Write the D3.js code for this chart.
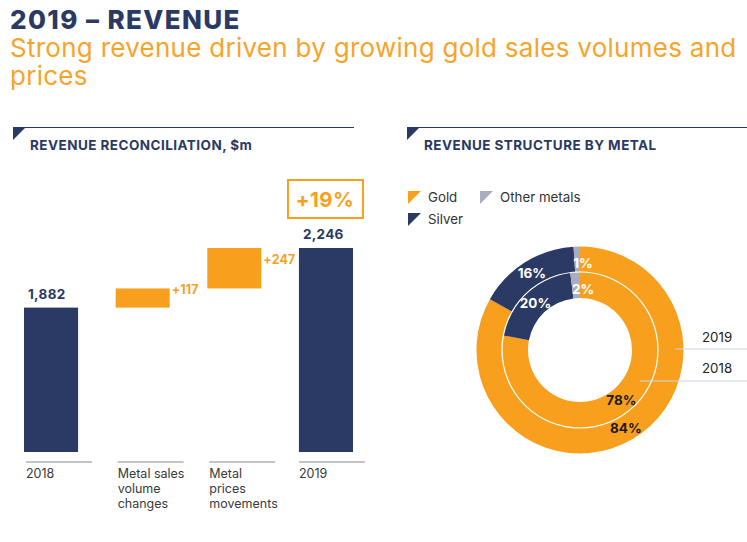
<!DOCTYPE html>
<html><head><meta charset="utf-8">
<script src="https://cdn.jsdelivr.net/npm/d3@7"></script>
<style>
body{margin:0;background:#fff;}
svg{display:block;font-family:Inter, "Open Sans", sans-serif;}
</style></head>
<body><svg id="c" width="747" height="542"></svg>
<script>
// ---- data ----
const wfCategories = [["2018"], ["Metal sales","volume","changes"], ["Metal","prices","movements"], ["2019"]];
const wfValues = [1882, 117, 247, 2246];
const wfLabels = ["1,882", "+117", "+247", "2,246"];
const wfTypes = ["total", "delta", "delta", "total"];
const growthLabel = "+19%";

const metals = ["Gold", "Silver", "Other metals"];
const share2019 = [84, 16, 1];
const share2018 = [78, 20, 2];
const years = ["2019", "2018"];

const NAVY = "#2b3a64", ORANGE = "#f8a01e", GREY = "#a8aec2", LINE = "#c9d5e2";
const metalColors = [ORANGE, NAVY, GREY];

const svg = d3.select("#c");

// titles
svg.append("text").attr("x", 10).attr("y", 29).attr("fill", NAVY)
  .attr("font-size", 26).attr("font-weight", 800).attr("letter-spacing", 1.4).text("2019 – REVENUE");
const sub = svg.append("text").attr("fill", "#f7a42a").attr("font-size", 26).attr("font-weight", 400).attr("letter-spacing", 0.27);
sub.append("tspan").attr("x", 10).attr("y", 57).text("Strong revenue driven by growing gold sales volumes and");
sub.append("tspan").attr("x", 10).attr("y", 85).text("prices");

// section headers
function header(x0, x1, label) {
  svg.append("line").attr("x1", x0).attr("x2", x1).attr("y1", 127.5).attr("y2", 127.5)
    .attr("stroke", NAVY).attr("stroke-width", 1.2);
  svg.append("path").attr("d", `M${x0},127 L${x0+13},127 L${x0},140 Z`).attr("fill", NAVY);
  svg.append("text").attr("x", x0 + 17).attr("y", 150).attr("fill", NAVY)
    .attr("font-size", 13.5).attr("font-weight", 700).attr("letter-spacing", 0.45).text(label);
}
header(13, 354, "REVENUE RECONCILIATION, $m");
header(407, 747, "REVENUE STRUCTURE BY METAL");

// ---- waterfall ----
const x = d3.scaleBand().domain(d3.range(wfValues.length)).range([24, 353]).paddingInner(0.41).paddingOuter(0);
const y = d3.scaleLinear().domain([1000, 2246]).range([452, 248]);
let running = 0;
const bars = wfValues.map((v, i) => {
  let lo, hi;
  if (wfTypes[i] === "total") { lo = y.domain()[0]; hi = v; running = v; }
  else { lo = running; hi = running + v; running = hi; }
  return {i, lo, hi, type: wfTypes[i], label: wfLabels[i]};
});
const g = svg.append("g");
g.selectAll("rect.bar").data(bars).join("rect").attr("class", "bar")
  .attr("x", d => x(d.i)).attr("width", x.bandwidth())
  .attr("y", d => y(d.hi)).attr("height", d => y(d.lo) - y(d.hi))
  .attr("fill", d => d.type === "total" ? NAVY : ORANGE);
g.selectAll("text.val").data(bars).join("text").attr("class", "val")
  .attr("font-size", d => d.type === "total" ? 13.5 : 12.5).attr("font-weight", 700)
  .attr("letter-spacing", d => d.type === "total" ? 0.3 : 0.1)
  .attr("fill", d => d.type === "total" ? NAVY : ORANGE)
  .attr("x", d => d.type === "total" ? x(d.i) + 4 : x(d.i) + x.bandwidth() + 2)
  .attr("y", d => d.type === "total" ? y(d.hi) - 9 : (y(d.hi) + y(d.lo)) / 2 - 4)
  .text(d => d.label);
// category axis lines + labels
const catG = g.selectAll("g.cat").data(wfCategories).join("g").attr("class", "cat")
  .attr("transform", (d, i) => `translate(${x(i) + (i === 3 ? 0 : 2)},0)`);
catG.append("line").attr("x1", 0).attr("x2", 66).attr("y1", 462).attr("y2", 462)
  .attr("stroke", "#8a8a8a").attr("stroke-width", 1);
catG.each(function(lines) {
  const t = d3.select(this).append("text").attr("fill", "#3a3a3a").attr("font-size", 12.5);
  lines.forEach((l, k) => t.append("tspan").attr("x", 0).attr("y", 478 + k * 15).text(l));
});
// growth box
const last = bars[bars.length - 1];
const bx = x(last.i) + x.bandwidth() / 2;
svg.append("rect").attr("x", bx - 38).attr("y", 180).attr("width", 75).attr("height", 38)
  .attr("fill", "none").attr("stroke", ORANGE).attr("stroke-width", 2);
svg.append("text").attr("x", bx - 1).attr("y", 206.5).attr("text-anchor", "middle")
  .attr("fill", ORANGE).attr("font-size", 20.5).attr("font-weight", 700).attr("letter-spacing", 0.4).text(growthLabel);

// ---- legend ----
const legPos = [[408, 191], [408, 213], [480, 191]];
metals.forEach((m, i) => {
  const [lx, ly] = legPos[i];
  svg.append("path").attr("d", `M${lx},${ly} L${lx+13},${ly} L${lx},${ly+13} Z`).attr("fill", metalColors[i]);
  svg.append("text").attr("x", lx + 20).attr("y", ly + 11).attr("fill", "#333").attr("font-size", 13.3).text(m);
});

// ---- donut ----
const cx = 580, cy = 350;
const pie = d3.pie().sort(null).value(d => d);
const rings = [
  {year: years[0], data: share2019, r0: 78, r1: 103.5},
  {year: years[1], data: share2018, r0: 52, r1: 78}
];
const dg = svg.append("g").attr("transform", `translate(${cx},${cy})`);
rings.forEach(ring => {
  const arc = d3.arc().innerRadius(ring.r0).outerRadius(ring.r1);
  const arcs = pie(ring.data);
  dg.append("g").selectAll("path").data(arcs).join("path")
    .attr("d", arc).attr("fill", (d, i) => metalColors[i]);
  dg.append("g").selectAll("text").data(arcs).join("text")
    .attr("font-size", 13.5).attr("font-weight", 700)
    .attr("fill", (d, i) => i === 0 ? "#1a1a1a" : "#fff")
    .attr("text-anchor", (d, i) => i === 2 ? "start" : "middle")
    .attr("dominant-baseline", "central")
    .attr("transform", (d, i) => { const c = arc.centroid(d); return `translate(${c[0] - (i === 2 ? 4 : 0)},${c[1] + (i === 2 ? 4 : 0)})`; })
    .text(d => d.data + "%");
});
dg.append("circle").attr("r", 78).attr("fill", "none").attr("stroke", "#fff").attr("stroke-width", 1.2);

// year pointers
const yrPos = [{lx: 675, ly: 349, ty: 342}, {lx: 640, ly: 381, ty: 373}];
years.forEach((yr, i) => {
  const p = yrPos[i];
  svg.append("line").attr("x1", p.lx).attr("x2", 747).attr("y1", p.ly).attr("y2", p.ly)
    .attr("stroke", LINE).attr("stroke-width", 1.2);
  svg.append("text").attr("x", 702).attr("y", p.ty).attr("fill", "#222").attr("font-size", 13.3).text(yr);
});
</script></body></html>
